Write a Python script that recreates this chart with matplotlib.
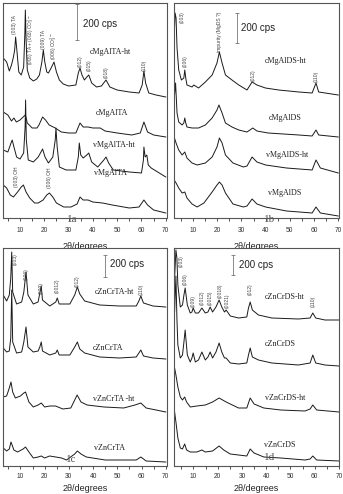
import matplotlib
matplotlib.use("Agg")
import matplotlib.pyplot as plt

# ---------------- data (2theta in degrees, intensity in arbitrary stacked units) ----------------
# Panel 1a
cMgAlTA_ht_x = [3.1,4.5,5.6,6.5,7.3,7.8,8.2,8.7,9.5,10.5,11.5,12.0,12.2,12.5,13.0,14.0,15.5,16.9,18.0,19.0,
                19.6,20.2,21.0,21.7,22.8,24.0,25.0,26.2,27.8,30.0,33.0,34.0,34.7,35.5,36.5,37.5,38.3,39.5,41.5,43.5,
                45.4,47.0,50.0,55.0,59.0,60.3,61.0,61.7,63.0,66.0,70.0]
cMgAlTA_ht_y = [160,156,147,153,161,168,181,168,146,143,151,185,208,178,148,140,137,139,143,156,
                168,156,146,145,150,156,146,138,134,132,133,145,150,143,138,141,143,135,131,132,
                138,131,128,126,125,133,147,135,125,123,121]
cMgAlTA_x = [3.1,5.0,6.5,7.5,8.5,10.0,11.3,12.2,13.0,15.0,17.0,17.8,19.3,20.5,22.0,24.5,27.0,30.0,33.0,34.7,
             36.0,38.0,40.0,43.0,45.0,50.0,56.0,59.5,61.0,62.5,65.0,70.0]
cMgAlTA_y = [106,103,97,100,96,98,101,103,95,90,90,93,101,98,93,90,86,85,85,95,
             91,91,90,90,87,85,83,85,96,86,83,81]
vMgAlTA_ht_x = [3.1,5.0,6.3,6.8,7.5,8.6,10.0,11.5,12.1,12.3,12.6,13.4,15.5,17.5,19.3,20.3,21.7,23.5,24.5,24.8,
                25.3,26.2,29.0,33.0,34.0,34.4,35.0,36.0,37.5,38.3,39.5,42.0,44.5,45.4,46.5,48.4,55.0,60.0,60.8,61.0,
                61.5,62.2,62.8,64.0,70.0]
vMgAlTA_ht_y = [68,66,75,78,71,61,59,65,91,118,78,58,56,61,69,61,55,61,78,90,
                71,51,48,48,61,75,63,60,63,65,56,51,58,61,55,48,46,45,58,71,
                61,63,53,50,41]
vMgAlTA_x = [3.1,4.5,6.0,7.3,9.0,10.5,11.4,12.5,14.0,16.0,17.5,19.5,21.0,22.1,23.5,25.0,28.0,31.0,33.5,34.7,
             36.0,38.0,40.0,44.0,48.0,55.0,59.0,61.0,62.5,65.0,70.0]
vMgAlTA_y = [33,30,23,21,26,31,33,26,20,15,15,18,23,25,21,15,11,11,14,21,
             18,18,16,15,13,10,11,18,13,8,5]

# Panel 1b
cMgAlDS_ht_x = [2.2,2.6,3.0,3.4,4.1,5.2,6.2,6.6,7.0,7.5,9.6,10.3,12.3,15.1,17.9,19.9,20.9,22.0,23.4,26.1,
                28.9,32.3,34.4,36.4,39.9,45.4,53.7,59.2,60.8,61.9,70.0]
cMgAlDS_ht_y = [180,205,200,170,148,138,140,148,140,133,131,133,130,136,143,155,166,155,143,138,
                133,128,136,133,130,128,126,125,135,126,123]
cMgAlDS_x = [2.2,2.8,3.4,4.1,5.5,6.2,6.6,7.0,7.5,9.6,12.3,15.1,17.9,19.9,20.7,22.0,23.4,26.1,28.9,32.3,
             34.7,36.4,41.0,53.7,59.2,60.8,61.9,70.0]
cMgAlDS_y = [118,135,105,96,93,95,100,95,91,90,90,93,100,108,113,105,95,91,88,86,
             90,87,85,83,82,88,83,81]
vMgAlDS_ht_x = [2.2,3.0,4.1,5.5,6.6,7.5,9.6,11.7,15.1,17.9,19.9,20.9,22.0,23.4,26.5,30.8,32.3,34.4,36.4,40.0,
                48.6,59.2,60.8,62.6,70.0]
vMgAlDS_ht_y = [81,75,68,63,66,60,55,53,55,61,71,80,75,63,55,51,52,61,56,53,50,48,58,50,45]
vMgAlDS_x = [2.2,3.0,4.1,5.5,6.6,7.5,9.6,11.7,14.5,17.9,19.9,20.9,22.0,23.4,26.5,30.8,32.3,34.4,36.4,40.0,
             48.6,59.2,60.8,62.6,70.0]
vMgAlDS_y = [38,35,30,25,26,20,14,11,15,26,33,36,33,25,14,11,12,19,14,11,7,5,11,5,2]

# Panel 1c
cZnCrTA_x = [2.9,4.3,5.4,6.0,6.4,6.8,8.4,10.5,11.4,12.3,13.1,15.3,17.3,18.0,18.6,19.1,22.1,24.6,25.2,26.0,
             30.4,32.4,33.5,34.5,36.5,42.7,50.9,57.8,58.9,59.7,60.8,64.7,70.0]
cZnCrTA_ht_y = [171,165,171,188,214,174,162,164,174,194,171,162,164,173,180,166,160,164,168,162,
                162,171,179,172,165,161,160,160,165,170,163,160,159]
cZnCrTA_y = [118,114,115,128,176,124,113,114,124,139,119,114,115,119,124,115,111,113,116,111,
             111,119,124,117,113,109,108,109,113,116,110,108,107]
vZnCrTA_ht_x = [2.9,4.3,5.4,6.1,6.8,7.9,10.0,11.4,12.1,13.5,15.3,17.3,18.6,20.0,22.1,24.5,27.5,30.8,32.4,33.4,
                35.0,37.5,44.5,52.6,57.3,59.7,61.9,66.0,70.0]
vZnCrTA_ht_y = [69,70,78,84,74,68,70,73,74,64,59,61,63,59,60,60,57,58,66,71,
                64,61,59,58,61,63,58,56,54]
vZnCrTA_x = [2.9,4.3,5.4,6.1,7.3,8.8,11.1,12.1,13.5,15.3,17.3,18.6,20.0,22.0,24.6,27.0,29.0,32.4,33.5,35.0,
             37.2,45.0,52.6,57.8,59.7,61.9,70.0]
vZnCrTA_y = [18,15,17,24,16,14,17,19,14,8,9,10,8,10,9,8,6,12,15,12,9,6,6,6,9,5,4]

# Panel 1d
cZnCrDS_x = [2.25,2.8,3.2,3.6,4.6,5.5,6.1,6.6,7.5,8.7,9.4,9.9,10.8,12.1,13.5,14.9,16.0,16.9,17.9,19.3,
             20.6,21.7,22.8,23.5,25.2,28.6,32.0,32.7,33.4,34.3,36.8,42.3,53.3,58.1,59.2,60.4,64.2,70.0]
cZnCrDS_ht_y = [188,216,208,181,159,161,171,178,161,153,154,158,153,153,158,153,154,159,154,159,
                166,159,154,156,150,148,149,158,164,156,151,148,147,148,153,148,146,146]
cZnCrDS_y = [154,190,148,121,108,111,124,136,111,104,108,113,104,106,114,106,109,114,108,114,
             123,114,108,108,103,102,103,111,118,109,106,103,101,103,111,103,101,100]
vZnCrDS_ht_x = [2.25,2.8,3.6,4.6,5.5,6.4,7.2,8.7,11.4,14.9,17.9,20.6,23.5,28.6,32.0,33.4,35.0,39.0,46.0,56.0,
                58.1,59.2,60.8,70.0]
vZnCrDS_ht_y = [98,91,79,69,66,69,64,59,60,61,64,68,64,58,58,68,62,58,56,55,57,61,56,54]
vZnCrDS_x = [2.25,2.8,3.6,4.6,5.5,6.4,7.2,8.7,11.4,13.5,14.9,17.9,20.6,22.5,25.2,28.6,32.0,33.4,35.0,39.0,
             46.0,56.0,58.1,59.2,60.8,70.0]
vZnCrDS_y = [54,44,28,18,17,22,16,14,14,16,14,15,20,16,12,11,10,17,13,9,8,6,7,10,6,5]

curve_names_a = ["cMgAlTA-ht", "cMgAlTA", "vMgAlTA-ht", "vMgAlTA"]
curve_names_b = ["cMgAlDS-ht", "cMgAlDS", "vMgAlDS-ht", "vMgAlDS"]
curve_names_c = ["cZnCrTA-ht", "cZnCrTA", "vZnCrTA -ht", "vZnCrTA"]
curve_names_d = ["cZnCrDS-ht", "cZnCrDS", "vZnCrDS-ht", "vZnCrDS"]
panel_tags = ["1a", "1b", "1c", "1d"]
x_ticks = [10, 20, 30, 40, 50, 60, 70]

# ---------------- figure ----------------
W, H = 343, 494
fig = plt.figure(figsize=(W / 100, H / 100), dpi=100)
fig.patch.set_facecolor("white")

SANS = ["Liberation Sans", "DejaVu Sans"]
SERIF = ["Liberation Serif", "DejaVu Serif"]
LINE = "#1a1a1a"
ANN = "#444444"


def make_axes(rect, xlim, ylim, label_y, pad):
    ax = fig.add_axes(rect)
    ax.set_xlim(*xlim)
    ax.set_ylim(*ylim)
    ax.set_yticks([])
    ax.set_xticks(x_ticks)
    ax.set_xticks(range(5, 71, 5), minor=True)
    ax.set_xticklabels([str(t) for t in x_ticks], fontsize=4.8, family=SANS, color="#333333")
    ax.tick_params(axis="x", which="both", direction="out", length=2.3, width=0.6,
                   pad=pad, colors="#333333")
    for s in ax.spines.values():
        s.set_color("#555555")
        s.set_linewidth(0.8)
    ax.set_xlabel("2θ/degrees", fontsize=6.5, family=SANS, color="#222222")
    ax.xaxis.set_label_coords(0.5, label_y)
    return ax


def curve(ax, x, y):
    ax.plot(x, y, color=LINE, lw=0.7, solid_joinstyle="round")


def label(ax, x, y, s):
    ax.text(x, y, s, fontsize=5.8, family=SERIF, ha="center", va="center", color="#222222")


def peak_note(ax, x, y, s, fs=3.6):
    ax.text(x, y, s, rotation=90, fontsize=fs, family=SANS, ha="center", va="bottom", color=ANN)


def scale_bar(ax, x, y0, y1, tx, ty):
    ax.plot([x, x], [y0, y1], color="#777777", lw=0.6)
    ax.plot([x, x], [y0, y1], color="#777777", lw=0, marker="_", ms=3.5, mew=0.6)
    ax.text(tx, ty, "200 cps", fontsize=7, family=SANS, ha="left", va="center", color="#222222")


def tag(ax, x, y, s):
    ax.text(x, y, s, fontsize=8, family=SERIF, ha="center", va="center", color="#555555")


# Panel a
ax = make_axes([3 / W, (H - 218) / H, 163.5 / W, 215 / H], (3.0, 70.3), (0, 215), -0.112, 4.0)
curve(ax, cMgAlTA_ht_x, cMgAlTA_ht_y)
curve(ax, cMgAlTA_x, cMgAlTA_y)
curve(ax, vMgAlTA_ht_x, vMgAlTA_ht_y)
curve(ax, vMgAlTA_x, vMgAlTA_y)
label(ax, 47.0, 166, curve_names_a[0])
label(ax, 47.7, 105, curve_names_a[1])
label(ax, 48.6, 73, curve_names_a[2])
label(ax, 47.3, 45, curve_names_a[3])
peak_note(ax, 7.9, 184, "(003) TA")
peak_note(ax, 14.4, 153, r"(006) TA + (003) CO$_3^{2-}$", fs=3.4)
peak_note(ax, 19.6, 169, "(009) TA")
peak_note(ax, 24.0, 158, r"(006) CO$_3^{2-}$")
peak_note(ax, 34.7, 151, "(012)")
peak_note(ax, 38.3, 147, "(015)")
peak_note(ax, 45.4, 140, "(018)")
peak_note(ax, 61.0, 147, "(110)")
peak_note(ax, 8.6, 31, "(003) OH")
peak_note(ax, 22.1, 30, "(006) OH")
scale_bar(ax, 33.6, 178, 214, 36.1, 194)
tag(ax, 31.7, -2, panel_tags[0])

# Panel b
ax = make_axes([173.5 / W, (H - 218) / H, 165.5 / W, 215 / H], (1.94, 70.3), (0, 215), -0.112, 4.0)
curve(ax, cMgAlDS_ht_x, cMgAlDS_ht_y)
curve(ax, cMgAlDS_x, cMgAlDS_y)
curve(ax, vMgAlDS_ht_x, vMgAlDS_ht_y)
curve(ax, vMgAlDS_x, vMgAlDS_y)
label(ax, 48.4, 157, curve_names_b[0])
label(ax, 47.9, 100, curve_names_b[1])
label(ax, 49.0, 63, curve_names_b[2])
label(ax, 47.9, 25, curve_names_b[3])
peak_note(ax, 5.5, 195, "(003)")
peak_note(ax, 6.6, 151, "(006)")
peak_note(ax, 20.9, 166, "impurity (MgDS ?)")
peak_note(ax, 34.9, 137, "(012)")
peak_note(ax, 60.8, 136, "(110)")
scale_bar(ax, 28.2, 175, 205, 29.9, 190)
tag(ax, 41.5, -2, panel_tags[1])

# Panel c
ax = make_axes([3 / W, 28 / H, 163.5 / W, 217.5 / H], (2.8, 70.3), (0, 217.5), -0.083, 2.5)
curve(ax, cZnCrTA_x, cZnCrTA_ht_y)
curve(ax, cZnCrTA_x, cZnCrTA_y)
curve(ax, vZnCrTA_ht_x, vZnCrTA_ht_y)
curve(ax, vZnCrTA_x, vZnCrTA_y)
label(ax, 48.6, 174, curve_names_c[0])
label(ax, 46.3, 118, curve_names_c[1])
label(ax, 48.6, 67, curve_names_c[2])
label(ax, 46.9, 18, curve_names_c[3])
peak_note(ax, 8.0, 201, "(003)")
peak_note(ax, 12.6, 186, "(006)")
peak_note(ax, 18.6, 172, "(009)")
peak_note(ax, 25.2, 173, "(0012)")
peak_note(ax, 33.5, 179, "(012)")
peak_note(ax, 59.8, 171, "(110)")
scale_bar(ax, 44.8, 189, 211, 46.8, 202)
tag(ax, 31.1, 7, panel_tags[2])

# Panel d
ax = make_axes([173.5 / W, 28 / H, 165.5 / W, 217.5 / H], (1.8, 70.0), (0, 217.5), -0.083, 2.5)
curve(ax, cZnCrDS_x, cZnCrDS_ht_y)
curve(ax, cZnCrDS_x, cZnCrDS_y)
curve(ax, vZnCrDS_ht_x, vZnCrDS_ht_y)
curve(ax, vZnCrDS_x, vZnCrDS_y)
label(ax, 47.7, 169, curve_names_d[0])
label(ax, 45.6, 122, curve_names_d[1])
label(ax, 47.9, 68, curve_names_d[2])
label(ax, 45.6, 21, curve_names_d[3])
peak_note(ax, 5.0, 199, "(003)")
peak_note(ax, 6.6, 181, "(006)")
peak_note(ax, 9.9, 159, "(009)")
peak_note(ax, 13.5, 161, "(0012)")
peak_note(ax, 16.9, 161, "(0015)")
peak_note(ax, 21.0, 168, "(0018)")
peak_note(ax, 23.8, 158, "(0021)")
peak_note(ax, 33.4, 171, "(012)")
peak_note(ax, 59.5, 159, "(110)")
scale_bar(ax, 26.5, 191, 211, 28.6, 201)
tag(ax, 41.2, 9, panel_tags[3])

fig.savefig("out.png", dpi=100, facecolor="white")
